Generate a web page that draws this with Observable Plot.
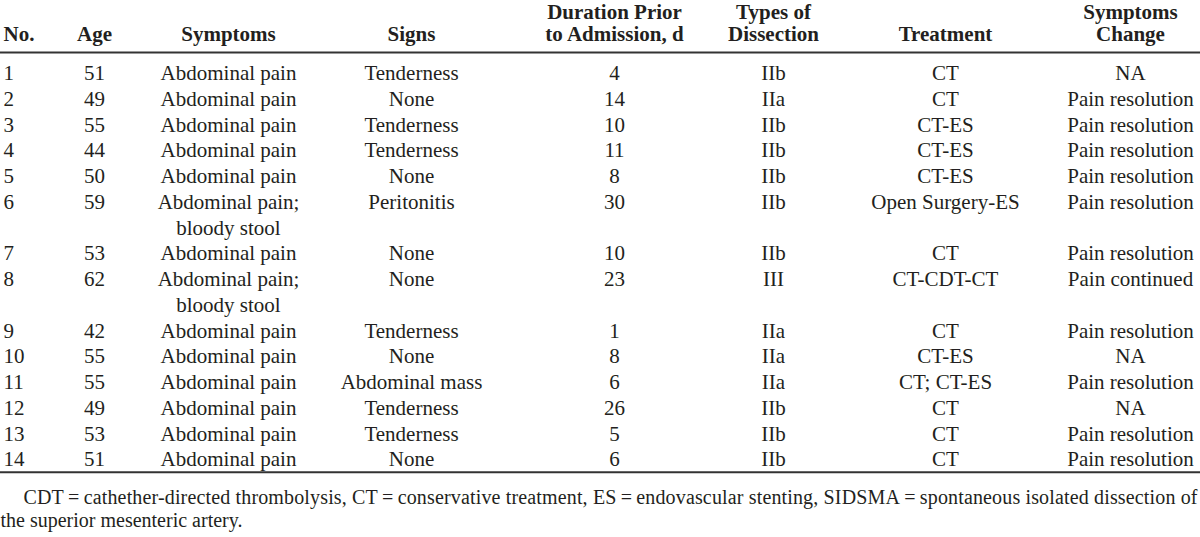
<!DOCTYPE html>
<html>
<head>
<meta charset="utf-8">
<script src="https://cdn.jsdelivr.net/npm/d3@7"></script>
<script src="https://cdn.jsdelivr.net/npm/@observablehq/plot@0.6"></script>
<style>
  html, body { margin: 0; padding: 0; background: #fff; }
  svg { display: block; }
</style>
</head>
<body>
<div id="chart"></div>
<script>
// ---- data ----
const caseNo = [1, 2, 3, 4, 5, 6, 7, 8, 9, 10, 11, 12, 13, 14];
const ages = [51, 49, 55, 44, 50, 59, 53, 62, 42, 55, 55, 49, 53, 51];
const symptoms = ["Abdominal pain", "Abdominal pain", "Abdominal pain", "Abdominal pain", "Abdominal pain",
  "Abdominal pain;\nbloody stool", "Abdominal pain", "Abdominal pain;\nbloody stool", "Abdominal pain",
  "Abdominal pain", "Abdominal pain", "Abdominal pain", "Abdominal pain", "Abdominal pain"];
const signs = ["Tenderness", "None", "Tenderness", "Tenderness", "None", "Peritonitis", "None", "None",
  "Tenderness", "None", "Abdominal mass", "Tenderness", "Tenderness", "None"];
const durationDays = [4, 14, 10, 11, 8, 30, 10, 23, 1, 8, 6, 26, 5, 6];
const dissectionTypes = ["IIb", "IIa", "IIb", "IIb", "IIb", "IIb", "IIb", "III", "IIa", "IIa", "IIa", "IIb", "IIb", "IIb"];
const treatments = ["CT", "CT", "CT-ES", "CT-ES", "CT-ES", "Open Surgery-ES", "CT", "CT-CDT-CT", "CT", "CT-ES",
  "CT; CT-ES", "CT", "CT", "CT"];
const symptomChange = ["NA", "Pain resolution", "Pain resolution", "Pain resolution", "Pain resolution",
  "Pain resolution", "Pain resolution", "Pain continued", "Pain resolution", "NA", "Pain resolution", "NA",
  "Pain resolution", "Pain resolution"];
const headers = ["No.", "Age", "Symptoms", "Signs", "Duration Prior\nto Admission, d", "Types of\nDissection",
  "Treatment", "Symptoms\nChange"];
const footnote = [
  "CDT\u2009=\u2009cathether-directed thrombolysis, CT\u2009=\u2009conservative treatment, ES\u2009=\u2009endovascular stenting, SIDSMA\u2009=\u2009spontaneous isolated dissection of",
  "the superior mesenteric artery."
];

// ---- layout (positions/styles) ----
const columns = [
  {values: caseNo, x: 3, anchor: "start"},
  {values: ages, x: 94, anchor: "middle"},
  {values: symptoms, x: 228, anchor: "middle"},
  {values: signs, x: 411, anchor: "middle"},
  {values: durationDays, x: 614, anchor: "middle"},
  {values: dissectionTypes, x: 773, anchor: "middle"},
  {values: treatments, x: 945, anchor: "middle"},
  {values: symptomChange, x: 1130, anchor: "middle"}
];
const headerLines = [-2.37, -1.52]; // in row-line units
const topRule = -0.82, bottomRule = 15.5;
const footLines = [16.47, 17.37];
const footX = [23, 0];

// ---- build cells ----
const cells = [];
let line = 0;
caseNo.forEach((_, r) => {
  let maxLines = 1;
  columns.forEach((c, ci) => {
    const parts = String(c.values[r]).split("\n");
    maxLines = Math.max(maxLines, parts.length);
    parts.forEach((p, k) => cells.push({text: p, x: c.x, line: line + k, anchor: c.anchor}));
  });
  line += maxLines;
});
const headCells = [];
headers.forEach((h, ci) => {
  const parts = h.split("\n");
  parts.forEach((p, k) => headCells.push({
    text: p, x: columns[ci].x, line: headerLines[headerLines.length - parts.length + k],
    anchor: columns[ci].x < 10 ? "start" : "middle"
  }));
});
const footCells = footnote.map((t, i) => ({text: t, x: footX[i], line: footLines[i], i}));

const ink = "#231f20";
const font = "'Liberation Serif', 'Times New Roman', serif";

const chart = Plot.plot({
  width: 1200,
  height: 537,
  margin: 0,
  style: {fontFamily: font, background: "#fff"},
  x: {domain: [0, 1200], range: [0, 1200], axis: null},
  y: {domain: [0, 15], range: [73, 459], axis: null},
  marks: [
    Plot.ruleY([topRule, bottomRule], {x1: 0, x2: 1200, stroke: "#333", strokeWidth: 2}),
    Plot.text(headCells.filter(d => d.anchor === "start"), {x: "x", y: "line", text: "text", textAnchor: "start", fontSize: 21, fontWeight: "bold", fill: ink}),
    Plot.text(headCells.filter(d => d.anchor === "middle"), {x: "x", y: "line", text: "text", textAnchor: "middle", fontSize: 21, fontWeight: "bold", fill: ink}),
    Plot.text(cells.filter(d => d.anchor === "start"), {x: "x", y: "line", text: "text", textAnchor: "start", fontSize: 21, fill: ink}),
    Plot.text(cells.filter(d => d.anchor === "middle"), {x: "x", y: "line", text: "text", textAnchor: "middle", fontSize: 21, fill: ink}),
    Plot.text(footCells, {x: "x", y: "line", text: "text", textAnchor: "start", fontSize: 20, fill: ink, className: "foot"})
  ]
});
document.getElementById("chart").appendChild(chart);
// justify the first footnote line like the typeset original
const firstFoot = chart.querySelector(".foot text");
if (firstFoot) {
  firstFoot.setAttribute("textLength", 1174);
  firstFoot.setAttribute("lengthAdjust", "spacing");
}
</script>
</body>
</html>
